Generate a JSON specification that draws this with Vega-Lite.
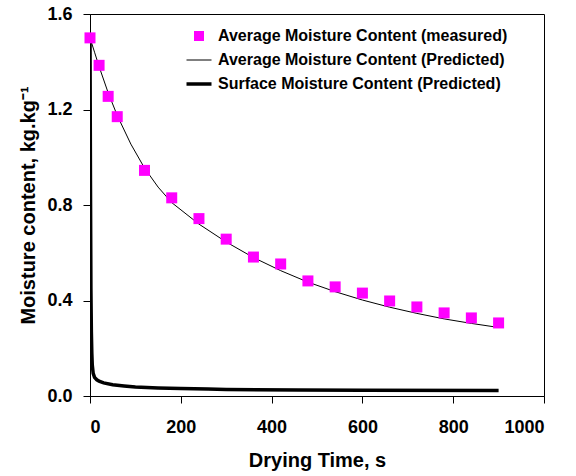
{
  "$schema": "https://vega.github.io/schema/vega-lite/v6.json",
  "width": 454,
  "height": 382,
  "autosize": {"type": "none"},
  "padding": {"left": 90, "top": 14, "right": 32, "bottom": 80},
  "background": "white",
  "config": {
    "view": {"stroke": "black", "strokeWidth": 1},
    "font": "Liberation Sans",
    "axis": {
      "grid": false,
      "domainColor": "black",
      "tickColor": "black",
      "labelColor": "black",
      "titleColor": "black",
      "labelFont": "Liberation Sans",
      "titleFont": "Liberation Sans",
      "labelFontWeight": "bold",
      "titleFontWeight": "bold",
      "labelFontSize": 18,
      "titleFontSize": 20,
      "tickSize": 7
    }
  },
  "datasets": {
    "measured": [
      {"time": 0, "moisture": 1.50, "series": "Average Moisture Content (measured)"},
      {"time": 20, "moisture": 1.385, "series": "Average Moisture Content (measured)"},
      {"time": 40, "moisture": 1.255, "series": "Average Moisture Content (measured)"},
      {"time": 60, "moisture": 1.17, "series": "Average Moisture Content (measured)"},
      {"time": 120, "moisture": 0.945, "series": "Average Moisture Content (measured)"},
      {"time": 180, "moisture": 0.83, "series": "Average Moisture Content (measured)"},
      {"time": 240, "moisture": 0.743, "series": "Average Moisture Content (measured)"},
      {"time": 300, "moisture": 0.657, "series": "Average Moisture Content (measured)"},
      {"time": 360, "moisture": 0.582, "series": "Average Moisture Content (measured)"},
      {"time": 420, "moisture": 0.553, "series": "Average Moisture Content (measured)"},
      {"time": 480, "moisture": 0.482, "series": "Average Moisture Content (measured)"},
      {"time": 540, "moisture": 0.457, "series": "Average Moisture Content (measured)"},
      {"time": 600, "moisture": 0.431, "series": "Average Moisture Content (measured)"},
      {"time": 660, "moisture": 0.398, "series": "Average Moisture Content (measured)"},
      {"time": 720, "moisture": 0.373, "series": "Average Moisture Content (measured)"},
      {"time": 780, "moisture": 0.348, "series": "Average Moisture Content (measured)"},
      {"time": 840, "moisture": 0.327, "series": "Average Moisture Content (measured)"},
      {"time": 900, "moisture": 0.306, "series": "Average Moisture Content (measured)"}
    ],
    "predicted": [
      {"time": 0, "moisture": 1.50, "series": "Average Moisture Content (Predicted)"},
      {"time": 10, "moisture": 1.44, "series": "Average Moisture Content (Predicted)"},
      {"time": 20, "moisture": 1.38, "series": "Average Moisture Content (Predicted)"},
      {"time": 40, "moisture": 1.27, "series": "Average Moisture Content (Predicted)"},
      {"time": 60, "moisture": 1.175, "series": "Average Moisture Content (Predicted)"},
      {"time": 90, "moisture": 1.055, "series": "Average Moisture Content (Predicted)"},
      {"time": 120, "moisture": 0.955, "series": "Average Moisture Content (Predicted)"},
      {"time": 150, "moisture": 0.875, "series": "Average Moisture Content (Predicted)"},
      {"time": 180, "moisture": 0.81, "series": "Average Moisture Content (Predicted)"},
      {"time": 240, "moisture": 0.72, "series": "Average Moisture Content (Predicted)"},
      {"time": 300, "moisture": 0.645, "series": "Average Moisture Content (Predicted)"},
      {"time": 360, "moisture": 0.58, "series": "Average Moisture Content (Predicted)"},
      {"time": 420, "moisture": 0.525, "series": "Average Moisture Content (Predicted)"},
      {"time": 480, "moisture": 0.477, "series": "Average Moisture Content (Predicted)"},
      {"time": 540, "moisture": 0.437, "series": "Average Moisture Content (Predicted)"},
      {"time": 600, "moisture": 0.402, "series": "Average Moisture Content (Predicted)"},
      {"time": 660, "moisture": 0.372, "series": "Average Moisture Content (Predicted)"},
      {"time": 720, "moisture": 0.346, "series": "Average Moisture Content (Predicted)"},
      {"time": 780, "moisture": 0.323, "series": "Average Moisture Content (Predicted)"},
      {"time": 840, "moisture": 0.304, "series": "Average Moisture Content (Predicted)"},
      {"time": 900, "moisture": 0.287, "series": "Average Moisture Content (Predicted)"}
    ],
    "surface": [
      {"time": 0, "moisture": 1.50, "series": "Surface Moisture Content (Predicted)"},
      {"time": 1, "moisture": 0.9, "series": "Surface Moisture Content (Predicted)"},
      {"time": 2, "moisture": 0.45, "series": "Surface Moisture Content (Predicted)"},
      {"time": 3, "moisture": 0.27, "series": "Surface Moisture Content (Predicted)"},
      {"time": 4, "moisture": 0.18, "series": "Surface Moisture Content (Predicted)"},
      {"time": 5, "moisture": 0.13, "series": "Surface Moisture Content (Predicted)"},
      {"time": 7, "moisture": 0.095, "series": "Surface Moisture Content (Predicted)"},
      {"time": 10, "moisture": 0.078, "series": "Surface Moisture Content (Predicted)"},
      {"time": 15, "moisture": 0.068, "series": "Surface Moisture Content (Predicted)"},
      {"time": 20, "moisture": 0.062, "series": "Surface Moisture Content (Predicted)"},
      {"time": 30, "moisture": 0.055, "series": "Surface Moisture Content (Predicted)"},
      {"time": 50, "moisture": 0.047, "series": "Surface Moisture Content (Predicted)"},
      {"time": 75, "moisture": 0.042, "series": "Surface Moisture Content (Predicted)"},
      {"time": 100, "moisture": 0.038, "series": "Surface Moisture Content (Predicted)"},
      {"time": 150, "moisture": 0.034, "series": "Surface Moisture Content (Predicted)"},
      {"time": 200, "moisture": 0.031, "series": "Surface Moisture Content (Predicted)"},
      {"time": 260, "moisture": 0.029, "series": "Surface Moisture Content (Predicted)"},
      {"time": 300, "moisture": 0.027, "series": "Surface Moisture Content (Predicted)"},
      {"time": 460, "moisture": 0.025, "series": "Surface Moisture Content (Predicted)"},
      {"time": 600, "moisture": 0.024, "series": "Surface Moisture Content (Predicted)"},
      {"time": 900, "moisture": 0.023, "series": "Surface Moisture Content (Predicted)"}
    ]
  },
  "layer": [
    {
      "data": {"name": "surface"},
      "mark": {"type": "line", "strokeWidth": 3.5, "clip": true},
      "encoding": {
        "x": {"field": "time", "type": "quantitative",
              "scale": {"domain": [0, 1000], "nice": false},
              "axis": {"title": "Drying Time, s", "values": [0, 200, 400, 600, 800, 1000], "format": "d", "labelPadding": 15, "titlePadding": 14}},
        "y": {"field": "moisture", "type": "quantitative",
              "scale": {"domain": [0, 1.6], "nice": false},
              "axis": {"title": "Moisture content, kg.kg⁻¹", "values": [0, 0.4, 0.8, 1.2, 1.6], "format": ".1f", "labelPadding": 11, "titlePadding": 8}},
        "color": {"field": "series", "type": "nominal",
                  "scale": {"domain": ["Average Moisture Content (measured)", "Average Moisture Content (Predicted)", "Surface Moisture Content (Predicted)"],
                            "range": ["#ff00ff", "black", "black"]},
                  "legend": {
                    "title": null,
                    "orient": "none",
                    "legendX": 101,
                    "legendY": 14,
                    "padding": 0,
                    "rowPadding": 8,
                    "symbolSize": 625,
                    "labelFont": "Liberation Sans",
                    "labelFontWeight": "bold",
                    "labelFontSize": 16,
                    "labelColor": "black",
                    "labelOffset": 11,
                    "labelLimit": 400,
                    "symbolOffset": 0,
                    "encode": {
                      "symbols": {
                        "update": {
                          "shape": {"signal": "datum.index === 0 ? 'square' : 'stroke'"},
                          "size": {"signal": "datum.index === 0 ? 100 : 625"},
                          "fill": {"signal": "datum.index === 0 ? '#ff00ff' : 'transparent'"},
                          "stroke": {"signal": "datum.index === 0 ? 'transparent' : 'black'"},
                          "strokeWidth": {"signal": "datum.index === 0 ? 0 : (datum.index === 1 ? 1 : 3.5)"},
                          "opacity": {"value": 1}
                        }
                      }
                    }
                  }}
      }
    },
    {
      "data": {"name": "predicted"},
      "mark": {"type": "line", "strokeWidth": 1},
      "encoding": {
        "x": {"field": "time", "type": "quantitative"},
        "y": {"field": "moisture", "type": "quantitative"},
        "color": {"field": "series", "type": "nominal"}
      }
    },
    {
      "data": {"name": "measured"},
      "mark": {"type": "point", "shape": "square", "filled": true, "size": 121, "opacity": 1},
      "encoding": {
        "x": {"field": "time", "type": "quantitative"},
        "y": {"field": "moisture", "type": "quantitative"},
        "color": {"field": "series", "type": "nominal"}
      }
    }
  ]
}
